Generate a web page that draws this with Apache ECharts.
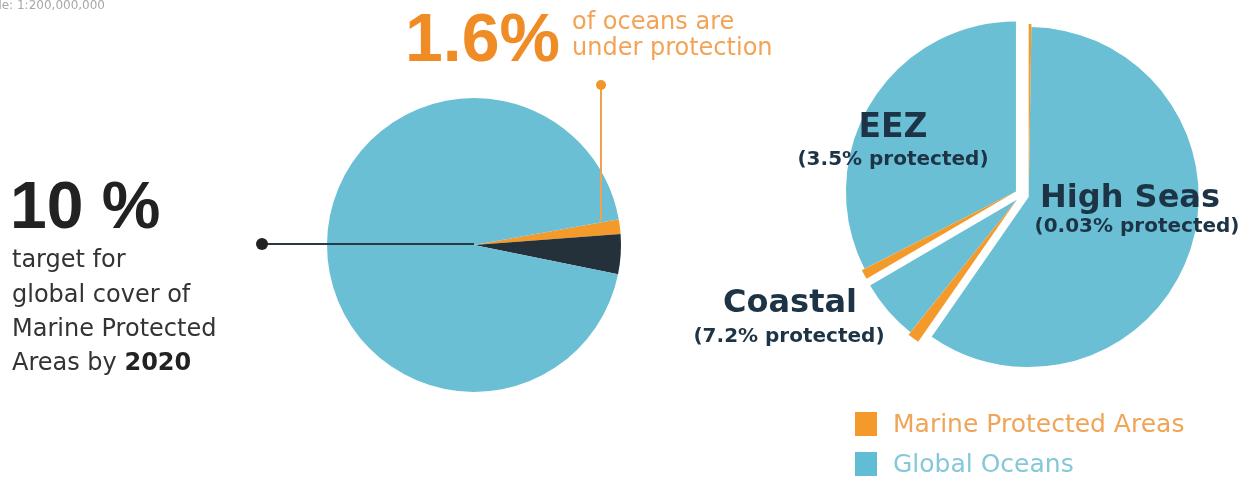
<!DOCTYPE html>
<html><head><meta charset="utf-8">
<script src="https://cdn.jsdelivr.net/npm/echarts@6/dist/echarts.min.js"></script>
<style>html,body{margin:0;padding:0;background:#fff}#c{width:1255px;height:479px}</style>
</head><body><div id="c"></div>
<script>
// ---- data ----
const leftNames = ['Marine Protected Areas', 'Gap to 10% target', 'Global Oceans'];
const leftValues = [1.6, 4.4, 94.0];
const leftStartAngle = 10.1;

const rightGroups = ['High Seas', 'Coastal', 'EEZ'];
const rightProtected = [0.25, 1.1, 0.9];
const rightOceans = [59.2, 5.8, 32.4];
const rightSubLabels = ['(0.03% protected)', '(7.2% protected)', '(3.5% protected)'];
const legendLabels = ['Marine Protected Areas', 'Global Oceans'];

// ---- style ----
const BLUE = '#6bbfd5', ORANGE = '#f39a2b', DARK = '#25313a', NAVY = '#1d3446';
const leftColors = [ORANGE, DARK, BLUE];

const chart = echarts.init(document.getElementById('c'), null, {renderer: 'canvas'});

const series = [];
series.push({
  type: 'pie', silent: true, center: [474, 245], radius: [0, 147],
  startAngle: leftStartAngle, clockwise: true, label: {show: false}, labelLine: {show: false},
  data: leftValues.map((v, i) => ({name: leftNames[i], value: v, itemStyle: {color: leftColors[i], borderWidth: 0}}))
});

// right exploded pie
const rightItems = [];
rightGroups.forEach((g, i) => {
  rightItems.push({group: i, kind: 'mpa', name: g + ' MPA', value: rightProtected[i]});
  rightItems.push({group: i, kind: 'ocean', name: g, value: rightOceans[i]});
});
const total = rightItems.reduce((s, d) => s + d.value, 0);
const baseC = [1022, 195], R = 170, explode = 7;
let cum = 0;
rightGroups.forEach((g, gi) => {
  const gt = rightProtected[gi] + rightOceans[gi];
  const mid = (90 - 360 * (cum + gt / 2) / total) * Math.PI / 180;
  cum += gt;
  const c = [baseC[0] + Math.cos(mid) * explode, baseC[1] - Math.sin(mid) * explode];
  ['ocean', 'mpa'].forEach(kind => {
    series.push({
      type: 'pie', silent: true, center: c, radius: [0, kind === 'mpa' ? R + 3 : R],
      startAngle: 90, clockwise: true, label: {show: false}, labelLine: {show: false},
      data: rightItems.map(d => {
        const on = d.group === gi && d.kind === kind;
        return {name: d.name, value: d.value, itemStyle: on ?
          {color: kind === 'mpa' ? ORANGE : BLUE, borderWidth: 0} :
          {color: 'rgba(0,0,0,0)', borderWidth: 0}};
      })
    });
  });
});

function txt(text, x, y, size, color, opts) {
  opts = opts || {};
  return {type: 'text', silent: true, z: 100, style: {
    text, x, y, fontSize: size, fontFamily: opts.family || 'DejaVu Sans',
    fontWeight: opts.bold ? 'bold' : 'normal', fill: color,
    align: opts.align || 'left', verticalAlign: 'middle'
  }};
}

const graphics = [
  txt('Scale: 1:200,000,000', 105, 6, 12, '#a8a8a8', {align: 'right'}),
  // left pie annotations
  {type: 'line', silent: true, z: 100, shape: {x1: 262, y1: 244, x2: 474, y2: 244}, style: {stroke: '#2a3a44', lineWidth: 2}},
  {type: 'circle', silent: true, z: 100, shape: {cx: 262, cy: 244, r: 6}, style: {fill: '#222'}},
  {type: 'line', silent: true, z: 100, shape: {x1: 601, y1: 85, x2: 601, y2: 221}, style: {stroke: '#f0a050', lineWidth: 2}},
  {type: 'circle', silent: true, z: 100, shape: {cx: 601, cy: 85, r: 5}, style: {fill: '#f0962a'}},
  txt('1.6%', 405, 42, 68, '#f08c25', {bold: true, family: 'Liberation Sans'}),
  txt('of oceans are', 572, 23, 24, '#f2a356'),
  txt('under protection', 572, 49, 24, '#f2a356'),
  txt('10 %', 10, 210, 66, '#222', {bold: true, family: 'Liberation Sans'}),
  txt('target for', 12, 261, 24, '#333'),
  txt('global cover of', 12, 296, 24, '#333'),
  txt('Marine Protected', 12, 330, 24, '#333'),
  {type: 'text', silent: true, z: 100, style: {text: 'Areas by {b|2020}', x: 12, y: 364, fontSize: 24, fontFamily: 'DejaVu Sans',
    fill: '#333', verticalAlign: 'middle', rich: {b: {fontWeight: 'bold', fontSize: 24, fontFamily: 'DejaVu Sans', fill: '#222'}}}},
  // right pie labels
  txt(rightGroups[2], 893, 128, 33, NAVY, {bold: true, align: 'center'}),
  txt(rightSubLabels[2], 893, 160, 20, NAVY, {bold: true, align: 'center'}),
  txt(rightGroups[0], 1130, 199, 32, NAVY, {bold: true, align: 'center'}),
  txt(rightSubLabels[0], 1137, 227, 20, NAVY, {bold: true, align: 'center'}),
  txt(rightGroups[1], 790, 304, 32, NAVY, {bold: true, align: 'center'}),
  txt(rightSubLabels[1], 789, 337, 20, NAVY, {bold: true, align: 'center'}),
  // legend
  {type: 'rect', silent: true, z: 100, shape: {x: 855, y: 412, width: 22, height: 24}, style: {fill: ORANGE}},
  txt(legendLabels[0], 893, 425, 25, '#f0a458'),
  {type: 'rect', silent: true, z: 100, shape: {x: 855, y: 452, width: 22, height: 24}, style: {fill: '#62bcd3'}},
  txt(legendLabels[1], 893, 465, 25, '#85c8da')
];

chart.setOption({animation: false, backgroundColor: '#fff', series, graphic: {elements: graphics}});
</script></body></html>
